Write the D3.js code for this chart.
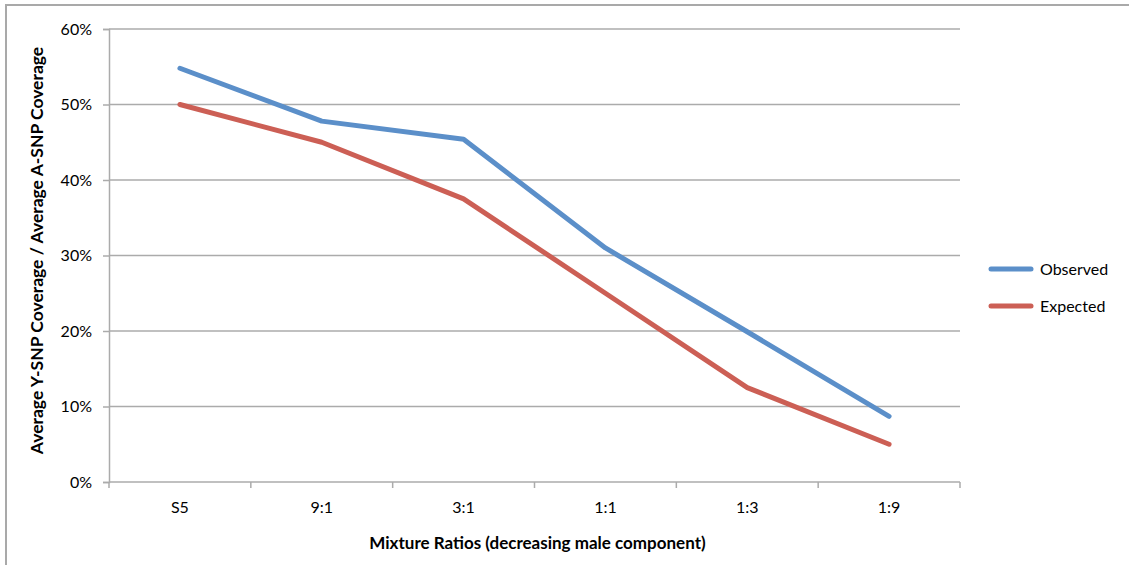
<!DOCTYPE html>
<html>
<head>
<meta charset="utf-8">
<script src="https://cdn.jsdelivr.net/npm/d3@7"></script>
<style>
  html, body { margin: 0; padding: 0; background: #fff; }
  svg { display: block; }
  text { font-family: Lato, "Open Sans", sans-serif; fill: #000; }
</style>
</head>
<body>
<svg id="chart" width="1129" height="565"></svg>
<script>
// Mixture ratios along the x axis
const categories = ["S5", "9:1", "3:1", "1:1", "1:3", "1:9"];
// Y-SNP / A-SNP coverage ratio, as fractions
const observed = [0.548, 0.478, 0.454, 0.310, 0.199, 0.087];
const expected = [0.500, 0.450, 0.375, 0.250, 0.125, 0.050];
const yTicks = [0, 0.1, 0.2, 0.3, 0.4, 0.5, 0.6];
const seriesNames = ["Observed", "Expected"];
const seriesColors = ["#5b8fc9", "#cc5f55"];

const svg = d3.select("#chart");
const plot = { left: 109, right: 960, top: 29, bottom: 482 };

// outer chart frame (top and left edges visible)
svg.append("path")
  .attr("d", "M6,565 L6,5 L1129,5")
  .attr("fill", "none").attr("stroke", "#a9a9a9").attr("stroke-width", 2);

const x = d3.scaleBand().domain(categories).range([plot.left, plot.right]).padding(0);
const y = d3.scaleLinear().domain([0, 0.6]).range([plot.bottom, plot.top]);

// horizontal gridlines
svg.append("g").selectAll("line").data(yTicks.filter(d => d > 0)).join("line")
  .attr("x1", plot.left).attr("x2", plot.right)
  .attr("y1", d => y(d)).attr("y2", d => y(d))
  .attr("stroke", "#ababab").attr("stroke-width", 1.5);

// y axis
const yAxis = svg.append("g").attr("transform", `translate(${plot.left},0)`)
  .call(d3.axisLeft(y).tickValues(yTicks).tickFormat(d3.format(".0%")).tickSize(6).tickPadding(11));
yAxis.select(".domain").attr("stroke", "#ababab").attr("stroke-width", 1.5);
yAxis.selectAll(".tick line").attr("stroke", "#ababab").attr("stroke-width", 1.5);
yAxis.selectAll(".tick text").attr("font-size", 16).attr("font-family", "Lato, sans-serif").attr("fill", "#000");

// x axis with ticks at band boundaries
const xAxisG = svg.append("g").attr("transform", `translate(0,${plot.bottom})`);
xAxisG.append("line").attr("x1", plot.left).attr("x2", plot.right)
  .attr("stroke", "#ababab").attr("stroke-width", 1.5);
const boundaries = categories.map(c => x(c)).concat([x(categories[categories.length - 1]) + x.bandwidth()]);
xAxisG.selectAll("line.tk").data(boundaries).join("line").attr("class", "tk")
  .attr("x1", d => d).attr("x2", d => d).attr("y1", 0).attr("y2", 6)
  .attr("stroke", "#ababab").attr("stroke-width", 1.5);
xAxisG.selectAll("text").data(categories).join("text")
  .attr("x", d => x(d) + x.bandwidth() / 2).attr("y", 31)
  .attr("text-anchor", "middle").attr("font-size", 16).text(d => d);

// axis titles
svg.append("text")
  .attr("x", (plot.left + plot.right) / 2 + 3).attr("y", 549)
  .attr("text-anchor", "middle").attr("font-size", 17).attr("font-weight", "bold")
  .text("Mixture Ratios (decreasing male component)");
svg.append("text")
  .attr("transform", `translate(43,${(plot.top + plot.bottom) / 2 - 5}) rotate(-90)`)
  .attr("text-anchor", "middle").attr("font-size", 17.5).attr("font-weight", "bold")
  .text("Average Y-SNP Coverage / Average A-SNP Coverage");

// series lines
const line = d3.line().x((d, i) => x(categories[i]) + x.bandwidth() / 2).y(d => y(d));
[observed, expected].forEach((vals, i) => {
  svg.append("path").datum(vals)
    .attr("d", line).attr("fill", "none")
    .attr("stroke", seriesColors[i]).attr("stroke-width", 5)
    .attr("stroke-linecap", "round").attr("stroke-linejoin", "round");
});

// legend
const legend = svg.append("g").attr("transform", "translate(991,269)");
seriesNames.forEach((name, i) => {
  const g = legend.append("g").attr("transform", `translate(0,${i * 37})`);
  g.append("line").attr("x1", 0).attr("x2", 40)
    .attr("stroke", seriesColors[i]).attr("stroke-width", 5).attr("stroke-linecap", "round");
  g.append("text").attr("x", 49).attr("y", 6).attr("font-size", 16).text(name);
});
</script>
</body>
</html>
